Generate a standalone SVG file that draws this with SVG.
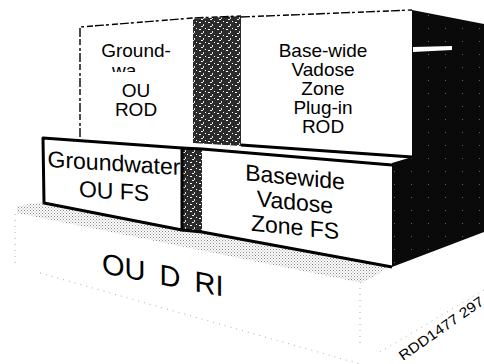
<svg xmlns="http://www.w3.org/2000/svg" width="484" height="364" viewBox="0 0 484 364">
<style>
text{font-family:"Liberation Sans",Arial,sans-serif;fill:#000}
.t20{font-size:19px}
.t23{font-size:23px}
.edge{fill:none;stroke:#000;stroke-width:3;stroke-linejoin:round}
.dash{fill:none;stroke:#000;stroke-width:1.4;stroke-dasharray:9 2 3 3 6 2}
.dot{fill:none;stroke:#aaa;stroke-width:1;stroke-dasharray:1 5}
</style>
<defs>
<pattern id="speck" width="9" height="7" patternUnits="userSpaceOnUse">
<rect width="9" height="7" fill="#2b2b2b"/>
<rect x="1" y="1" width="2" height="1" fill="#fff"/>
<rect x="5" y="3" width="1" height="2" fill="#ddd"/>
<rect x="3" y="5" width="2" height="1" fill="#eee"/>
<rect x="7" y="0" width="1" height="1" fill="#fff"/>
</pattern>
<pattern id="dark" width="17" height="13" patternUnits="userSpaceOnUse">
<rect width="17" height="13" fill="#0a0a0a"/>
<rect x="3" y="2" width="1" height="1" fill="#666"/>
</pattern>
<pattern id="stip" width="3" height="3" patternUnits="userSpaceOnUse">
<rect width="3" height="3" fill="#fff"/>
<rect x="0" y="0" width="1" height="1" fill="#888"/>
<rect x="1.5" y="1.5" width="1" height="1" fill="#999"/>
</pattern>
<clipPath id="waclip"><rect x="100" y="60" width="45" height="12"/></clipPath>
</defs>

<g id="ou-d-ri">
<polygon points="15,213 362,283 484,240 484,290 360,364 15,266" fill="#fff"/>
<polygon points="17,206 44,202 182,229 200,231 390,267 362,283 17,213" fill="url(#stip)"/>
<line class="dot" x1="15" y1="214" x2="15" y2="264"/>
<line class="dot" x1="40" y1="273" x2="360" y2="364"/>
<line class="dot" x1="360" y1="288" x2="360" y2="345"/>
<line class="dot" x1="380" y1="352" x2="484" y2="290"/>
<text transform="translate(102,273) skewY(11)" font-size="29" word-spacing="6">OU D RI</text>
</g>

<g id="side-dark">
<polygon points="412,10 484,24 484,232 392,267 392,163 412,157" fill="url(#dark)"/>
<polygon points="413,47 452,46 452,50 413,52" fill="#fff"/>
</g>

<g id="gw-rod">
<polygon points="193,19 241,16 241,146 193,143" fill="url(#speck)"/>
<polygon points="80,27 193,18 193,143 80,137" fill="#fff"/>
<polyline class="dash" points="80,137 80,27 193,18 241,16"/>
<text class="t20" x="136" y="57" text-anchor="middle">Ground-</text>
<text class="t20" x="112" y="77" clip-path="url(#waclip)">wa</text>
<text class="t20" x="136" y="97" text-anchor="middle">OU</text>
<text class="t20" x="136" y="116" text-anchor="middle">ROD</text>
</g>

<g id="bvz-rod">
<polygon points="241,17 412,10 412,157 241,145" fill="#fff"/>
<polyline class="dash" points="241,17 412,10"/>
<line x1="241" y1="145" x2="412" y2="157" stroke="#000" stroke-width="3"/>
<text class="t20" x="323" y="57" text-anchor="middle">Base-wide</text>
<text class="t20" x="323" y="76" text-anchor="middle">Vadose</text>
<text class="t20" x="323" y="95" text-anchor="middle">Zone</text>
<text class="t20" x="323" y="114" text-anchor="middle">Plug-in</text>
<text class="t20" x="323" y="133" text-anchor="middle">ROD</text>
</g>

<g id="gw-fs">
<polygon points="182,147 202,149 202,232 182,230" fill="url(#speck)"/>
<polygon points="43,138 182,148 182,230 44,203" fill="#fff" class="edge"/>
<g transform="translate(114,171) skewY(3.5)">
<text class="t23" x="0" y="0" text-anchor="middle">Groundwater</text>
<text class="t23" x="0" y="28" text-anchor="middle">OU FS</text>
</g>
</g>

<g id="bvz-fs">
<polygon points="202,149 392,165 392,267 202,232" fill="#fff"/>
<polyline class="edge" points="182,148 202,149 392,165"/>
<polyline class="edge" points="182,230 202,232 392,267"/>
<g transform="translate(295,185) skewY(5.5)">
<text class="t23" x="0" y="0" text-anchor="middle">Basewide</text>
<text class="t23" x="0" y="25" text-anchor="middle">Vadose</text>
<text class="t23" x="0" y="50" text-anchor="middle">Zone FS</text>
</g>
</g>

<g id="connectors"></g>

<text transform="translate(403,361) rotate(-35)" font-size="14" textLength="100" lengthAdjust="spacingAndGlyphs">RDD1477 297</text>
</svg>
